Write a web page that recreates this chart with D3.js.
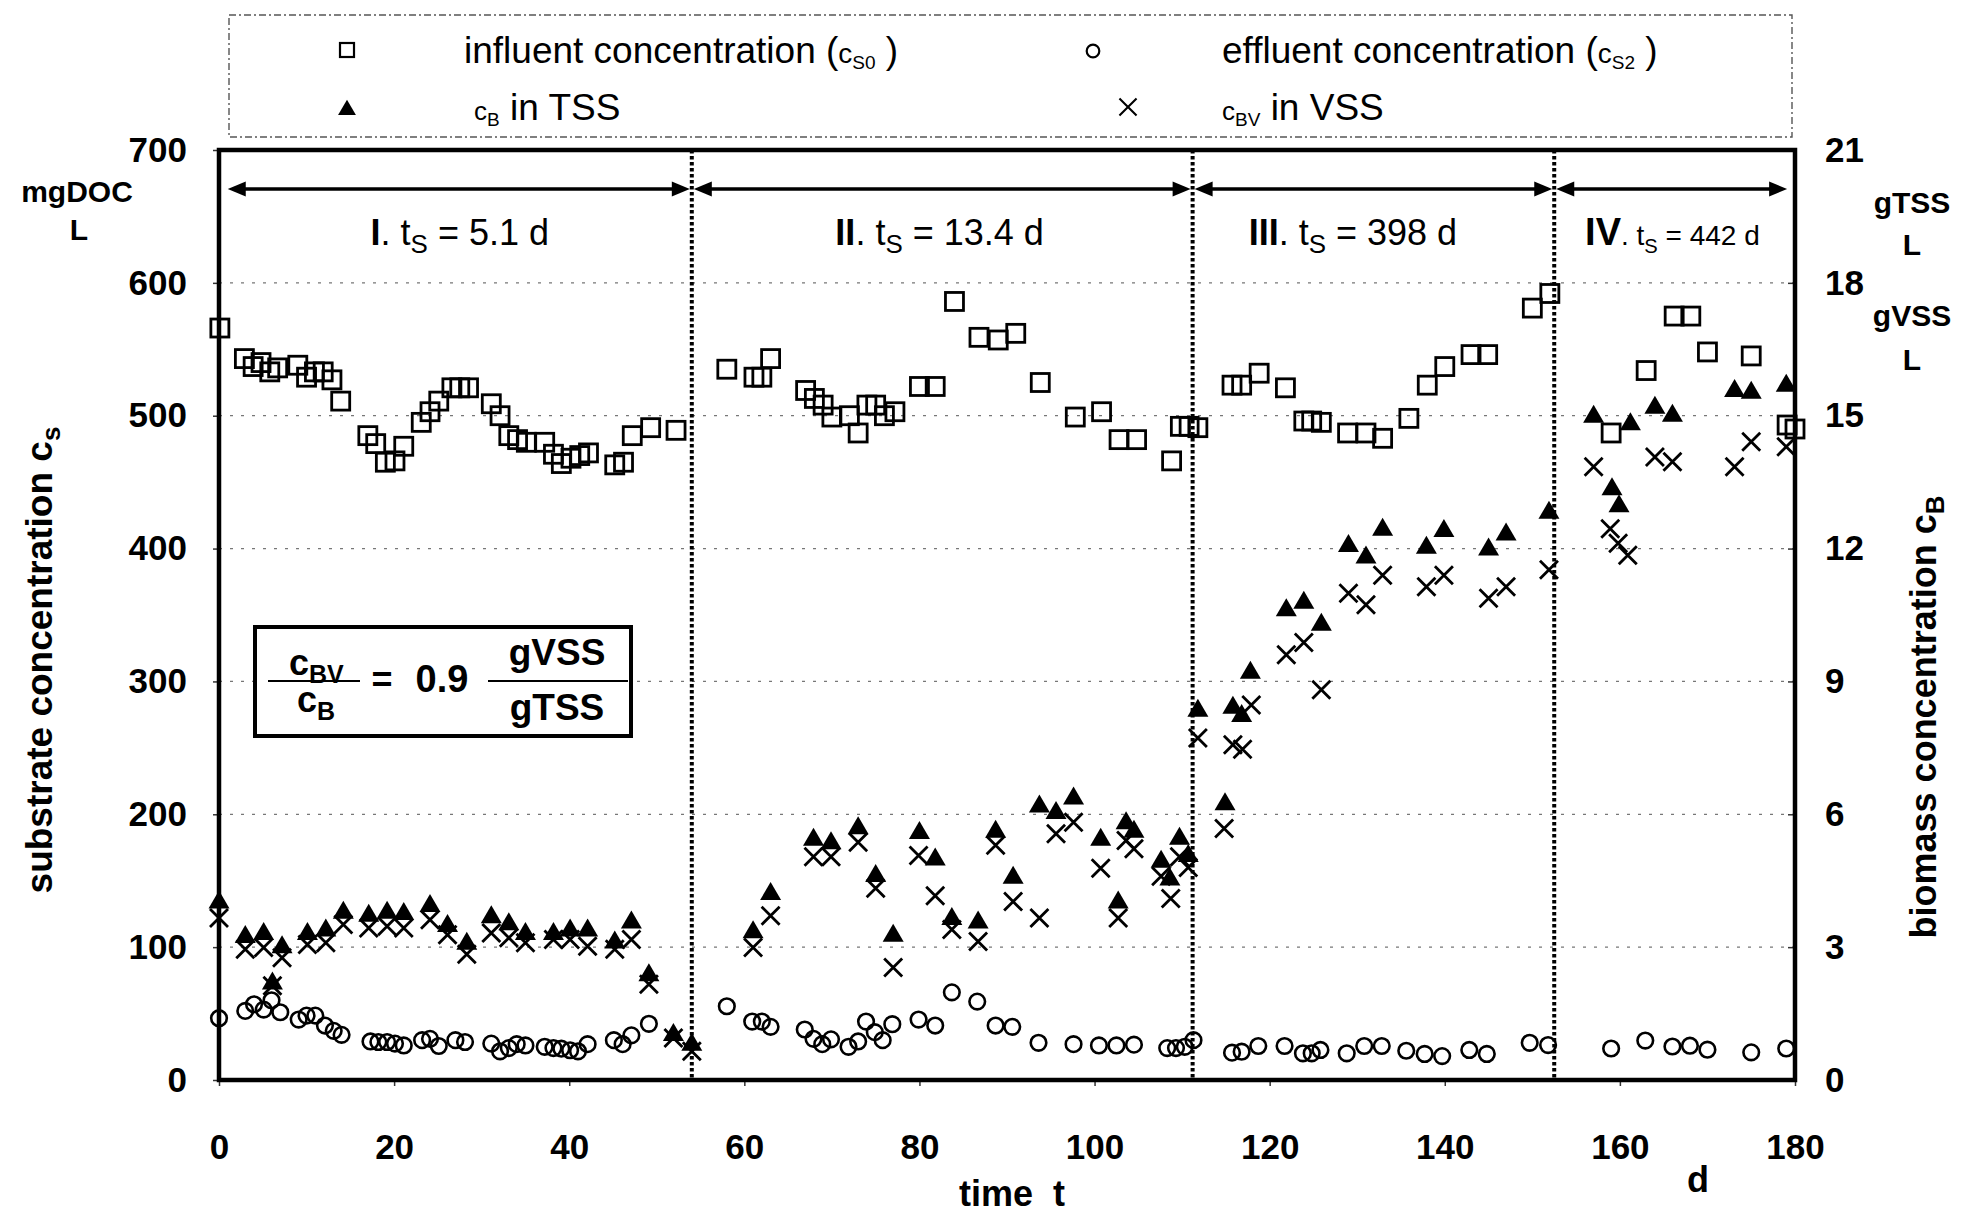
<!DOCTYPE html>
<html>
<head>
<meta charset="utf-8">
<script src="https://cdn.jsdelivr.net/npm/d3@7"></script>
<style>
  body { margin: 0; background: #fff; }
  svg { display: block; font-family: "Liberation Sans", Arial, sans-serif; }
</style>
</head>
<body>
<svg id="chart" width="1965" height="1216"></svg>
<script>
// Data: [day, value]
// substrate in mgDOC/L (left axis), biomass in g/L (right axis)
var influent = [
  [0.1,566],[2.9,543],[3.9,537],[4.8,540],[5.8,533],[6.7,536],[9.0,538],[10.0,529],[10.9,533],[11.9,533],[12.9,527],[13.9,511],
  [17.0,485],[17.9,479],[19.0,465],[20.1,466],[21.1,477],[23.1,495],[24.1,503],[25.1,511],[26.6,521],[27.5,521],[28.5,521],
  [31.1,509],[32.1,500],[33.1,485],[34.1,482],[35.1,480],[37.2,480],[38.2,471],[39.1,464],[40.2,468],[41.2,470],[42.2,472],
  [45.2,463],[46.2,465],[47.2,485],[49.3,491],[52.2,489],
  [58.0,535],[61.1,529],[62.0,529],[63.0,543],[67.0,519],[68.0,513],[69.0,508],[70.0,499],[72.0,500],[73.0,487],[74.0,508],
  [75.0,508],[76.0,500],[77.2,503],[80.0,522],[81.8,522],[84.0,586],[86.8,559],[89.0,557],[91.0,562],[93.8,525],[97.8,499],
  [100.8,503],[102.8,482],[104.8,482],[108.8,466],[109.8,492],[110.8,492],
  [111.8,491],[115.7,523],[116.8,523],[118.8,532],[121.8,521],[123.9,496],[124.8,496],[125.9,495],[128.9,487],[131.0,487],
  [132.9,483],[135.9,498],[138.0,523],[140.0,537],[143.0,546],[144.9,546],[150.0,581],[152.0,592],
  [159.0,487],[163.0,534],[166.2,575],[168.1,575],[170.0,548],[175.0,545],[179.1,493],[180.0,490]
];
var effluent = [
  [0,46.5],[3.0,52],[4.0,57],[5.1,53],[6.0,60],[7.0,51],[9.1,45.5],[10.0,48.5],[11.0,48.5],[12.1,41],[13.1,37],[14.0,34],
  [17.3,29],[18.2,28.6],[19.2,28.6],[20.1,27.4],[21.1,26],[23.2,30],[24.1,31],[25.1,25.6],[27.0,30],[28.1,28.6],
  [31.1,27.4],[32.1,21.6],[33.1,24],[34.0,27],[35.0,26],[37.2,25],[38.2,24],[39.1,23.6],[40.1,22.4],[41.0,21.6],[42.1,27],
  [45.1,30],[46.1,27],[47.1,33.6],[49.1,42.3],
  [58.0,55.5],[60.9,44],[62.0,44],[63.0,40],[66.9,38],[67.9,31],[68.9,27],[69.9,30.6],[71.9,25],[73.0,29],[73.9,44],
  [74.9,36],[75.8,30],[76.9,42],[79.9,45.5],[81.8,41],[83.7,66],[86.6,59],[88.7,41],[90.6,40],[93.6,28],[97.6,27],
  [100.5,26],[102.5,26],[104.5,26.6],[108.3,24],[109.3,24],[110.3,25],[111.3,30],
  [115.7,20.6],[116.8,21.3],[118.7,25.6],[121.7,25.6],[123.8,20.1],[124.8,20.1],[125.8,22.6],[128.8,20.1],[130.8,25.6],
  [132.8,25.6],[135.6,22],[137.7,19.6],[139.7,18],[142.8,22.6],[144.8,19.6],[149.7,28],[151.8,26.3],
  [159.0,23.7],[162.9,29.7],[166.0,25.2],[168.0,25.8],[170.0,22.8],[175.0,20.8],[179.0,23.7]
];
var cbTSS = [
  [0,4.03],[3.0,3.25],[5.1,3.32],[6.1,2.2],[7.2,3.02],[10.1,3.32],[12.2,3.4],[14.2,3.8],[17.1,3.73],[19.2,3.8],[21.1,3.77],
  [24.1,3.95],[26.1,3.5],[28.3,3.1],[31.1,3.7],[33.1,3.54],[35.0,3.32],[38.2,3.32],[40.1,3.4],[42.1,3.4],[45.2,3.13],
  [47.1,3.58],[49.1,2.39],[51.9,1.04],[54.0,0.82],
  [61.0,3.36],[63.0,4.22],[67.9,5.45],[69.9,5.37],[73.0,5.71],[75.0,4.63],[77.0,3.28],[80.0,5.6],[81.8,5.0],[83.7,3.66],
  [86.7,3.58],[88.7,5.63],[90.7,4.59],[93.7,6.2],[95.6,6.05],[97.6,6.38],[100.7,5.45],[102.7,4.03],[103.6,5.82],[104.5,5.63],
  [107.6,4.95],[108.6,4.55],[109.7,5.47],[110.7,5.08],
  [111.8,8.36],[114.9,6.25],[115.8,8.43],[116.8,8.24],[117.8,9.22],[121.9,10.63],[123.9,10.8],[125.9,10.3],[129.0,12.08],
  [131.0,11.82],[132.9,12.45],[137.9,12.04],[139.9,12.42],[145.0,12.0],[147.0,12.34],[151.9,12.83],
  [157.0,15.0],[159.1,13.36],[159.9,12.98],[161.2,14.83],[164.0,15.2],[166.0,15.02],[173.1,15.58],[175.0,15.54],[179.0,15.7]
];
var cbvVSS = [
  [0,3.66],[3.0,2.95],[5.1,2.99],[6.1,2.13],[7.2,2.76],[10.1,3.06],[12.2,3.1],[14.2,3.51],[17.1,3.43],[19.2,3.47],[21.1,3.43],
  [24.1,3.62],[26.1,3.28],[28.3,2.84],[31.1,3.32],[33.1,3.21],[35.0,3.1],[38.2,3.17],[40.1,3.17],[42.1,3.02],[45.2,2.95],
  [47.1,3.17],[49.1,2.16],[51.9,0.95],[54.0,0.65],
  [61.0,2.99],[63.0,3.71],[67.9,5.04],[69.9,5.04],[73.0,5.37],[75.0,4.33],[77.0,2.54],[79.9,5.07],[81.8,4.16],[83.7,3.4],
  [86.7,3.13],[88.7,5.3],[90.7,4.03],[93.7,3.66],[95.6,5.56],[97.6,5.82],[100.7,4.78],[102.7,3.66],[103.6,5.41],[104.5,5.22],
  [107.6,4.6],[108.7,4.1],[109.7,5.04],[110.7,4.8],
  [111.8,7.72],[114.8,5.68],[115.8,7.57],[116.9,7.47],[117.9,8.47],[121.9,9.6],[123.9,9.88],[125.9,8.81],[129.0,10.99],
  [131.0,10.73],[132.9,11.4],[137.9,11.14],[139.9,11.4],[145.0,10.88],[147.0,11.14],[151.9,11.52],
  [157.0,13.85],[158.9,12.45],[159.8,12.12],[160.9,11.85],[164.0,14.07],[166.0,13.96],[173.1,13.85],[175.0,14.41],[179.0,14.3]
];

// phases
var phaseBounds = [1, 54, 111.2, 152.5, 179.1];
var phaseNames = ["I", "II", "III", "IV"];
var phaseTs = ["5.1", "13.4", "398", "442"];
var phaseLabelDay = [27.5, 82.3, 129.5, 166];

// ticks
var xTicks = d3.range(0, 181, 20);
var leftTicks = d3.range(0, 701, 100);
var rightTicks = d3.range(0, 22, 3);
var gridTicks = d3.range(100, 601, 100);

var svg = d3.select("#chart");

var x = d3.scaleLinear().domain([0, 180]).range([219, 1795]);
var yL = d3.scaleLinear().domain([0, 700]).range([1080, 150]);
var yR = d3.scaleLinear().domain([0, 21]).range([1080, 150]);

// gridlines
svg.append("g").selectAll("line").data(gridTicks).join("line")
  .attr("x1", x(0)).attr("x2", x(180))
  .attr("y1", d => yL(d)).attr("y2", d => yL(d))
  .attr("stroke", "#777").attr("stroke-width", 1.2)
  .attr("stroke-dasharray", "3,8");

// phase separators (dotted)
svg.append("g").selectAll("line").data(phaseBounds.slice(1, 4)).join("line")
  .attr("x1", d => x(d)).attr("x2", d => x(d))
  .attr("y1", yL(700)).attr("y2", yL(0))
  .attr("stroke", "#000").attr("stroke-width", 4)
  .attr("stroke-dasharray", "3.5,2.5");

// double arrows
var arrowY = 189;
var arrows = svg.append("g");
phaseNames.forEach(function(n, i) {
  var a = x(phaseBounds[i]) + (i > 0 ? 2 : 0),
    b = x(phaseBounds[i + 1]) - (i < 3 ? 2 : 0);
  arrows.append("line")
    .attr("x1", a + 10).attr("x2", b - 10)
    .attr("y1", arrowY).attr("y2", arrowY)
    .attr("stroke", "#000").attr("stroke-width", 3.4);
  arrows.append("path")
    .attr("d", "M" + a + "," + arrowY + "l18,-7.5l0,15z")
    .attr("fill", "#000");
  arrows.append("path")
    .attr("d", "M" + b + "," + arrowY + "l-18,-7.5l0,15z")
    .attr("fill", "#000");
});

// phase labels
phaseNames.forEach(function(n, i) {
  var big = i < 3 ? 36 : 28;
  var t = svg.append("text")
    .attr("x", x(phaseLabelDay[i])).attr("y", 245)
    .attr("text-anchor", "middle").attr("font-size", big);
  t.append("tspan").attr("font-weight", "bold").attr("font-size", i < 3 ? 36 : 38).text(n);
  t.append("tspan").text(". t");
  t.append("tspan").attr("font-size", big * 0.72).attr("dy", 8).text("S");
  t.append("tspan").attr("dy", -8).text(" = " + phaseTs[i] + " d");
});

// axes
function styleAxis(g) {
  g.select(".domain").remove();
  g.selectAll(".tick line").attr("stroke", "#333").attr("stroke-width", 1.5);
  g.selectAll(".tick text")
    .attr("font-size", 35).attr("font-weight", "bold").attr("fill", "#000");
  g.attr("font-family", null);
}
svg.append("g").attr("transform", "translate(" + x(0) + ",0)")
  .call(d3.axisLeft(yL).tickValues(leftTicks).tickSize(6).tickPadding(26))
  .call(styleAxis);
svg.append("g").attr("transform", "translate(" + x(180) + ",0)")
  .call(d3.axisRight(yR).tickValues(rightTicks).tickSizeInner(-7).tickSizeOuter(0).tickPadding(30))
  .call(styleAxis);
svg.append("g").attr("transform", "translate(0," + yL(0) + ")")
  .call(d3.axisBottom(x).tickValues(xTicks).tickSize(6).tickPadding(48))
  .call(styleAxis);

// markers
var tri = "M0,-11L10.5,7L-10.5,7Z";
var xMark = "M-9,-9L9,9M-9,9L9,-9";

svg.append("g").selectAll("rect").data(influent).join("rect")
  .attr("x", d => x(d[0]) - 9).attr("y", d => yL(d[1]) - 9)
  .attr("width", 18).attr("height", 18)
  .attr("fill", "none").attr("stroke", "#000").attr("stroke-width", 2.8);

svg.append("g").selectAll("circle").data(effluent).join("circle")
  .attr("cx", d => x(d[0])).attr("cy", d => yL(d[1])).attr("r", 7.8)
  .attr("fill", "none").attr("stroke", "#000").attr("stroke-width", 2.6);

svg.append("g").selectAll("path").data(cbvVSS).join("path")
  .attr("transform", d => "translate(" + x(d[0]) + "," + yR(d[1]) + ")")
  .attr("d", xMark).attr("fill", "none").attr("stroke", "#000").attr("stroke-width", 2.8);

svg.append("g").selectAll("path").data(cbTSS).join("path")
  .attr("transform", d => "translate(" + x(d[0]) + "," + yR(d[1]) + ")")
  .attr("d", tri).attr("fill", "#000");

// frame
svg.append("rect")
  .attr("x", x(0)).attr("y", yL(700))
  .attr("width", x(180) - x(0)).attr("height", yL(0) - yL(700))
  .attr("fill", "none").attr("stroke", "#000").attr("stroke-width", 4.5);

// ratio box
var box = svg.append("g");
box.append("rect").attr("x", 255).attr("y", 627).attr("width", 376).attr("height", 109)
  .attr("fill", "#fff").attr("stroke", "#000").attr("stroke-width", 4);
var num = box.append("text").attr("x", 289).attr("y", 675).attr("font-weight", "bold").attr("font-size", 36);
num.append("tspan").text("c");
num.append("tspan").attr("font-size", 25).attr("dy", 8).text("BV");
var den = box.append("text").attr("x", 297).attr("y", 712).attr("font-weight", "bold").attr("font-size", 36);
den.append("tspan").text("c");
den.append("tspan").attr("font-size", 25).attr("dy", 8).text("B");
box.append("line").attr("x1", 268).attr("x2", 360).attr("y1", 681).attr("y2", 681)
  .attr("stroke", "#000").attr("stroke-width", 2);
box.append("text").attr("x", 382).attr("y", 692).attr("text-anchor", "middle")
  .attr("font-weight", "bold").attr("font-size", 36).text("=");
box.append("text").attr("x", 442).attr("y", 692).attr("text-anchor", "middle")
  .attr("font-weight", "bold").attr("font-size", 38).text("0.9");
box.append("line").attr("x1", 488).attr("x2", 628).attr("y1", 681).attr("y2", 681)
  .attr("stroke", "#000").attr("stroke-width", 2);
box.append("text").attr("x", 557).attr("y", 665).attr("text-anchor", "middle")
  .attr("font-weight", "bold").attr("font-size", 37).text("gVSS");
box.append("text").attr("x", 557).attr("y", 720).attr("text-anchor", "middle")
  .attr("font-weight", "bold").attr("font-size", 37).text("gTSS");

// axis titles and units
svg.append("text").attr("transform", "translate(52,660) rotate(-90)")
  .attr("text-anchor", "middle").attr("font-weight", "bold").attr("font-size", 37)
  .call(function(t) {
    t.append("tspan").text("substrate concentration c");
    t.append("tspan").attr("font-size", 26).attr("dy", 8).text("s");
  });
svg.append("text").attr("transform", "translate(1936,717) rotate(-90)")
  .attr("text-anchor", "middle").attr("font-weight", "bold").attr("font-size", 36)
  .call(function(t) {
    t.append("tspan").text("biomass concentration c");
    t.append("tspan").attr("font-size", 26).attr("dy", 8).text("B");
  });

var units = [
  ["mgDOC", 77, 202], ["L", 79, 240],
  ["gTSS", 1912, 213], ["L", 1912, 255], ["gVSS", 1912, 326], ["L", 1912, 370]
];
svg.append("g").selectAll("text").data(units).join("text")
  .attr("x", d => d[1]).attr("y", d => d[2])
  .attr("text-anchor", "middle").attr("font-weight", "bold").attr("font-size", 30)
  .text(d => d[0]);

svg.append("text").attr("x", 1012).attr("y", 1206).attr("text-anchor", "middle")
  .attr("font-weight", "bold").attr("font-size", 36).text("time\u00a0\u00a0t");
svg.append("text").attr("x", 1698).attr("y", 1192).attr("text-anchor", "middle")
  .attr("font-weight", "bold").attr("font-size", 36).text("d");

// legend
var leg = svg.append("g");
leg.append("rect").attr("x", 229).attr("y", 15).attr("width", 1563).attr("height", 122)
  .attr("fill", "none").attr("stroke", "#555").attr("stroke-width", 1.4)
  .attr("stroke-dasharray", "7,3,2,3");
leg.append("rect").attr("x", 340).attr("y", 43).attr("width", 14).attr("height", 14)
  .attr("fill", "none").attr("stroke", "#000").attr("stroke-width", 2.2);
leg.append("circle").attr("cx", 1093).attr("cy", 51).attr("r", 6.3)
  .attr("fill", "none").attr("stroke", "#000").attr("stroke-width", 2.2);
leg.append("path").attr("transform", "translate(347,109) scale(0.85)").attr("d", tri).attr("fill", "#000");
leg.append("path").attr("transform", "translate(1128,107) scale(0.95)").attr("d", xMark)
  .attr("fill", "none").attr("stroke", "#000").attr("stroke-width", 2.2);

function legendText(xp, yp, pre, sub, post, small) {
  var t = leg.append("text").attr("x", xp).attr("y", yp).attr("font-size", 37);
  if (pre) t.append("tspan").text(pre);
  t.append("tspan").attr("font-size", small).text("c");
  t.append("tspan").attr("font-size", 19).attr("dy", 6).text(sub);
  t.append("tspan").attr("dy", -6).text(post);
}
legendText(464, 63, "influent concentration (", "S0", " )", 28);
legendText(1222, 63, "effluent concentration (", "S2", " )", 28);
legendText(474, 120, null, "B", " in TSS", 26);
legendText(1222, 120, null, "BV", " in VSS", 26);
</script>
</body>
</html>
